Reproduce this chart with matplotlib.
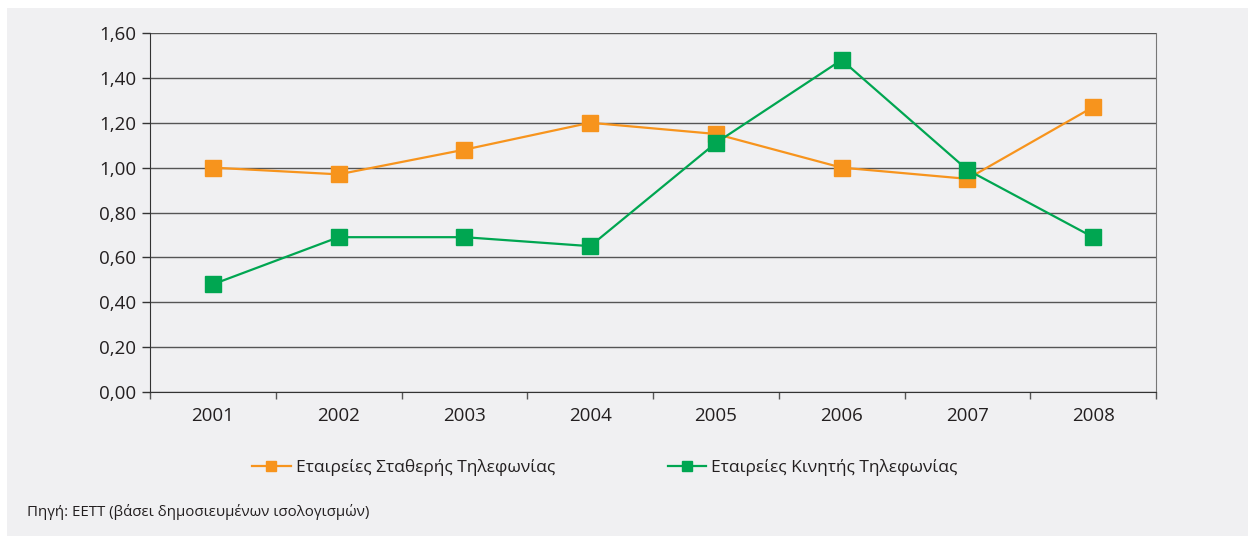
import numpy as np
import matplotlib.pyplot as plt
from matplotlib.patches import Rectangle
from matplotlib.ticker import FixedLocator, FuncFormatter

plt.rcParams['font.family'] = ['Open Sans', 'DejaVu Sans']

# data
years = ['2001', '2002', '2003', '2004', '2005', '2006', '2007', '2008']
fixed = [1.00, 0.97, 1.08, 1.20, 1.15, 1.00, 0.95, 1.27]
mobile = [0.48, 0.69, 0.69, 0.65, 1.11, 1.48, 0.99, 0.69]
fixed_label = 'Εταιρείες Σταθερής Τηλεφωνίας'
mobile_label = 'Εταιρείες Κινητής Τηλεφωνίας'
source = 'Πηγή: ΕΕΤΤ (βάσει δημοσιευμένων ισολογισμών)'

bg = '#f0f0f2'
orange = '#f7941d'
green = '#00a651'

fig = plt.figure(figsize=(12.48, 5.38), dpi=100)
fig.patch.set_facecolor('white')
fig.patches.append(Rectangle((7/1248, 2/538), 1 - 7/1248, 1 - 10/538,
                             transform=fig.transFigure, facecolor=bg,
                             edgecolor='none', zorder=-5))

ax = fig.add_axes([150/1248, (538-392)/538, 1006/1248, 359/538])
ax.set_facecolor(bg)

x = np.arange(len(years))
ax.plot(x, fixed, color=orange, lw=1.6, marker='s', ms=11.5, mec=orange,
        label=fixed_label, zorder=3)
ax.plot(x, mobile, color=green, lw=1.6, marker='s', ms=11.5, mec=green,
        label=mobile_label, zorder=4)

ax.set_xlim(-0.5, len(years) - 0.5)
ax.set_ylim(0, 1.6)
ax.set_yticks(np.arange(0, 1.61, 0.2))
ax.yaxis.set_major_formatter(FuncFormatter(lambda v, p: f'{v:.2f}'.replace('.', ',')))
ax.set_xticks(x)
ax.set_xticklabels(years)
ax.xaxis.set_minor_locator(FixedLocator(np.arange(-0.5, len(years), 1.0)))
ax.tick_params(axis='x', which='major', length=0, pad=11, labelsize=13.5, colors='#231f20')
ax.tick_params(axis='x', which='minor', length=5, width=1, color='#555555')
ax.tick_params(axis='y', length=6, width=1, color='#333333', pad=4, labelsize=13.5,
               labelcolor='#231f20')

ax.grid(axis='y', color='#555555', lw=1)
ax.set_axisbelow(True)
ax.spines['top'].set_visible(False)
ax.spines['left'].set_color('#333333')
ax.spines['bottom'].set_color('#333333')
ax.spines['right'].set_color('#777777')

leg = fig.legend(loc='center', bbox_to_anchor=(605/1248, 1 - 468/538), ncol=2,
                 frameon=False, fontsize=12.5, handlelength=2.2, columnspacing=6.5,
                 handletextpad=0.3, markerscale=0.6)
for t in leg.get_texts():
    t.set_color('#231f20')

fig.text(27/1248, 1 - 512/538, source, fontsize=10.8, color='#231f20', va='center')

fig.savefig('out.png', dpi=100, facecolor=fig.get_facecolor())
